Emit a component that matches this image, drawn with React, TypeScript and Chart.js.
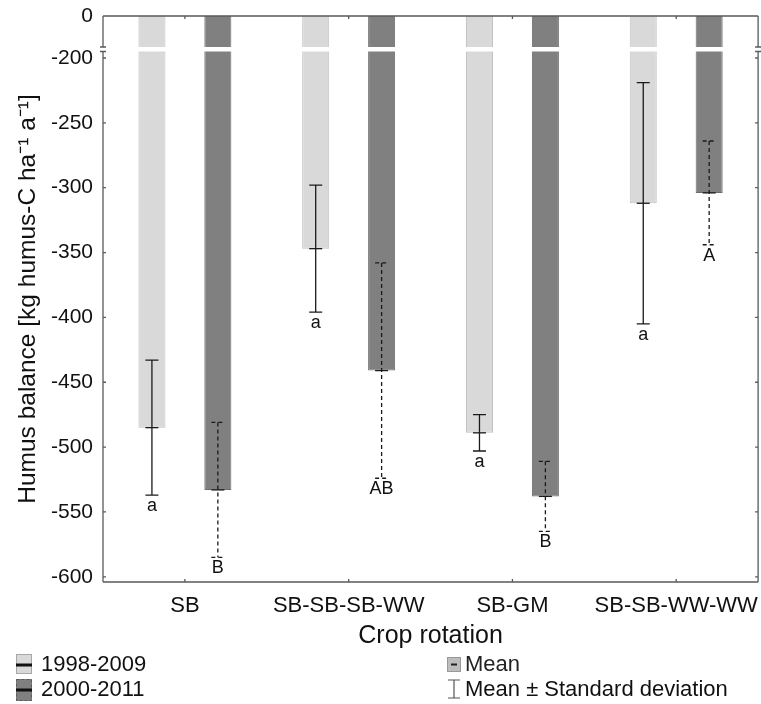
import React, { useEffect, useRef } from 'react';
import { Chart, registerables, LinearScale } from 'chart.js';

// ---------------- data ----------------
const categories = ['SB', 'SB-SB-SB-WW', 'SB-GM', 'SB-SB-WW-WW'];
const seriesLabels = ['1998-2009', '2000-2011'];
const means1998 = [-485, -347, -489, -312];
const sd1998 = [52, 49, 14, 93];
const means2000 = [-533, -441, -538, -304];
const sd2000 = [52, 83, 27, 40];
const letters1998 = ['a', 'a', 'a', 'a'];
const letters2000 = ['B', 'AB', 'B', 'A'];
const yTickValues = [0, -200, -250, -300, -350, -400, -450, -500, -550, -600];
const yMin = -604;
const yMax = 0;
const breakUpperEnd = -25; // last value drawn above the axis break
const breakLowerStart = -195; // first value drawn below the axis break
const legendStatLabels = ['Mean', 'Mean \u00B1 Standard deviation'];
const yTitle = 'Humus balance [kg humus-C ha\u207B\u00B9 a\u207B\u00B9]';
const xTitle = 'Crop rotation';

// ---------------- styles ----------------
const FONT = "'Liberation Sans', Arial, Helvetica, sans-serif";
const LIGHT = '#d9d9d9';
const LIGHT_BORDER = '#c2c2c2';
const DARK = '#808080';
const DARK_BORDER = '#6c6c6c';
const AXIS = '#5a5a5a';
const UPPER_FRAC = 31 / 566;
const GAP_FRAC = 4.5 / 566;

class BrokenLinearScale extends (LinearScale as any) {
  static id = 'brokenLinear';
  static defaults = (LinearScale as any).defaults;
  _segments() {
    const h = this.bottom - this.top;
    const upperH = h * UPPER_FRAC;
    const gapH = h * GAP_FRAC;
    return { upperH, gapH, lowerH: h - upperH - gapH };
  }
  getPixelForValue(value: number) {
    const { upperH, gapH, lowerH } = this._segments();
    const top = this.top;
    const max = this.max;
    const min = this.min;
    if (value >= breakUpperEnd) return top + ((max - value) / (max - breakUpperEnd)) * upperH;
    if (value <= breakLowerStart)
      return top + upperH + gapH + ((breakLowerStart - value) / (breakLowerStart - min)) * lowerH;
    return top + upperH + ((breakUpperEnd - value) / (breakUpperEnd - breakLowerStart)) * gapH;
  }
  getValueForPixel(pixel: number) {
    const { upperH, gapH, lowerH } = this._segments();
    const p = pixel - this.top;
    if (p <= upperH) return this.max - (p / upperH) * (this.max - breakUpperEnd);
    if (p >= upperH + gapH)
      return breakLowerStart - ((p - upperH - gapH) / lowerH) * (breakLowerStart - this.min);
    return breakUpperEnd - ((p - upperH) / gapH) * (breakUpperEnd - breakLowerStart);
  }
}

Chart.register(...registerables, BrokenLinearScale as any);

const errorBarPlugin = {
  id: 'errorBars',
  afterDatasetsDraw(chart: any) {
    const { ctx, chartArea, scales } = chart;
    const y = scales.y;
    // axis-break white band through the bars
    const gTop = y.getPixelForValue(breakUpperEnd);
    const gBot = y.getPixelForValue(breakLowerStart);
    ctx.save();
    ctx.fillStyle = '#ffffff';
    ctx.fillRect(chartArea.left + 1, gTop, chartArea.right - chartArea.left - 2, gBot - gTop);
    ctx.restore();

    const sets = [
      { means: means1998, sds: sd1998, letters: letters1998, dash: [] as number[] },
      { means: means2000, sds: sd2000, letters: letters2000, dash: [4, 3] },
    ];
    sets.forEach((s, di) => {
      const meta = chart.getDatasetMeta(di);
      meta.data.forEach((bar: any, i: number) => {
        const x = bar.x;
        const m = y.getPixelForValue(s.means[i]);
        const up = y.getPixelForValue(s.means[i] + s.sds[i]);
        const lo = y.getPixelForValue(s.means[i] - s.sds[i]);
        const cw = 6.5;
        ctx.save();
        ctx.strokeStyle = '#1a1a1a';
        ctx.lineWidth = 1.3;
        ctx.setLineDash(s.dash);
        ctx.beginPath();
        ctx.moveTo(x, up);
        ctx.lineTo(x, lo);
        ctx.moveTo(x - cw, up);
        ctx.lineTo(x + cw, up);
        ctx.moveTo(x - cw, lo);
        ctx.lineTo(x + cw, lo);
        ctx.stroke();
        ctx.setLineDash([]);
        ctx.beginPath();
        ctx.moveTo(x - cw, m);
        ctx.lineTo(x + cw, m);
        ctx.stroke();
        ctx.fillStyle = '#111';
        ctx.font = `18px ${FONT}`;
        ctx.textAlign = 'center';
        ctx.textBaseline = 'alphabetic';
        ctx.fillText(s.letters[i], x, lo + 16);
        ctx.restore();
      });
    });
  },
};

const framePlugin = {
  id: 'frame',
  afterDraw(chart: any) {
    const { ctx, chartArea, scales } = chart;
    const { left, right, top, bottom } = chartArea;
    const y = scales.y;
    const x = scales.x;
    const gTop = y.getPixelForValue(breakUpperEnd);
    const gBot = y.getPixelForValue(breakLowerStart);
    ctx.save();
    ctx.strokeStyle = AXIS;
    ctx.lineWidth = 1.3;
    ctx.beginPath();
    ctx.moveTo(left, top);
    ctx.lineTo(right, top);
    ctx.moveTo(left, bottom);
    ctx.lineTo(right, bottom);
    [left, right].forEach((xx) => {
      ctx.moveTo(xx, top);
      ctx.lineTo(xx, gTop);
      ctx.moveTo(xx, gBot);
      ctx.lineTo(xx, bottom);
      ctx.moveTo(xx - 3, gTop);
      ctx.lineTo(xx + 3, gTop);
      ctx.moveTo(xx - 3, gBot);
      ctx.lineTo(xx + 3, gBot);
    });
    yTickValues.forEach((v) => {
      const py = y.getPixelForValue(v);
      if (v === yMax) return;
      ctx.moveTo(left, py);
      ctx.lineTo(left + 3, py);
      ctx.moveTo(right, py);
      ctx.lineTo(right - 3, py);
    });
    categories.forEach((_, i) => {
      const px = x.getPixelForValue(i);
      ctx.moveTo(px, top);
      ctx.lineTo(px, top + 3);
      ctx.moveTo(px, bottom);
      ctx.lineTo(px, bottom - 3);
    });
    ctx.stroke();
    ctx.restore();

    // legend
    ctx.save();
    ctx.font = `22px ${FONT}`;
    ctx.textBaseline = 'middle';
    ctx.textAlign = 'left';
    ctx.fillStyle = LIGHT;
    ctx.fillRect(16, 654, 16, 20);
    ctx.strokeStyle = '#a8a8a8';
    ctx.lineWidth = 1;
    ctx.strokeRect(16.5, 654.5, 15, 19);
    ctx.fillStyle = '#111';
    ctx.fillRect(16, 663.5, 16, 3);
    ctx.fillText(seriesLabels[0], 41, 665);
    ctx.fillStyle = DARK;
    ctx.fillRect(16, 679, 16, 22);
    ctx.strokeStyle = '#5c5c5c';
    ctx.setLineDash([3, 2]);
    ctx.strokeRect(16.5, 679.5, 15, 21);
    ctx.setLineDash([]);
    ctx.fillStyle = '#111';
    ctx.fillRect(16, 688.5, 16, 3);
    ctx.fillText(seriesLabels[1], 41, 690);
    ctx.fillStyle = '#bdbdbd';
    ctx.fillRect(447, 657, 14, 15);
    ctx.strokeStyle = '#999';
    ctx.strokeRect(447.5, 657.5, 13, 14);
    ctx.fillStyle = '#222';
    ctx.fillRect(451, 663.5, 6, 2);
    ctx.fillText(legendStatLabels[0], 465, 665);
    ctx.strokeStyle = '#555';
    ctx.lineWidth = 1.2;
    ctx.beginPath();
    ctx.moveTo(454, 680);
    ctx.lineTo(454, 698);
    ctx.moveTo(448, 680);
    ctx.lineTo(460, 680);
    ctx.moveTo(448, 698);
    ctx.lineTo(460, 698);
    ctx.stroke();
    ctx.fillStyle = '#111';
    ctx.fillText(legendStatLabels[1], 465, 690);
    ctx.restore();
  },
};

export default function App() {
  const canvasRef = useRef<HTMLCanvasElement | null>(null);
  useEffect(() => {
    const canvas = canvasRef.current;
    if (!canvas) return;
    const chart = new Chart(canvas, {
      type: 'bar',
      data: {
        labels: categories,
        datasets: [
          {
            label: seriesLabels[0],
            data: means1998,
            backgroundColor: LIGHT,
            borderColor: LIGHT_BORDER,
            borderWidth: 1,
          },
          {
            label: seriesLabels[1],
            data: means2000,
            backgroundColor: DARK,
            borderColor: DARK_BORDER,
            borderWidth: 1,
          },
        ],
      },
      options: {
        responsive: false,
        animation: false,
        devicePixelRatio: 1,
        layout: { padding: { top: 16, right: 1, left: 0, bottom: 52 } },
        datasets: { bar: { categoryPercentage: 0.805, barPercentage: 0.41 } },
        plugins: { legend: { display: false }, tooltip: { enabled: false } },
        scales: {
          x: {
            type: 'category',
            grid: { display: false },
            border: { display: false },
            ticks: { color: '#111', font: { family: FONT, size: 22 }, padding: 3, maxRotation: 0, autoSkip: false },
            title: { display: true, text: xTitle, color: '#111', font: { family: FONT, size: 25 }, padding: { top: 0, bottom: 1 } },
            afterFit: (s: any) => {
              s.height = 70;
            },
          },
          y: {
            type: 'brokenLinear' as any,
            min: yMin,
            max: yMax,
            grid: { display: false },
            border: { display: false },
            ticks: {
              color: '#111',
              font: { family: FONT, size: 21 },
              padding: 2,
              callback: (v: any) => String(v),
            },
            afterBuildTicks: (axis: any) => {
              axis.ticks = yTickValues.map((v) => ({ value: v }));
            },
            title: { display: true, text: yTitle, color: '#111', font: { family: FONT, size: 24.5 }, padding: { top: 14, bottom: 0 } },
            afterFit: (s: any) => {
              s.width = 103;
            },
          } as any,
        },
      },
      plugins: [errorBarPlugin, framePlugin],
    } as any);
    return () => chart.destroy();
  }, []);
  return (
    <div style={{ position: 'fixed', left: 0, top: 0, width: 761, height: 704, background: '#fff' }}>
      <canvas ref={canvasRef} width={761} height={704} style={{ display: 'block', width: 761, height: 704 }} />
    </div>
  );
}
